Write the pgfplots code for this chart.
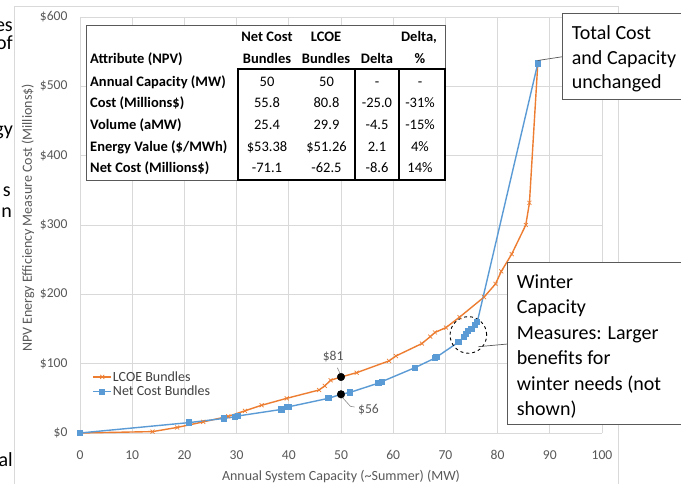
\documentclass[border=0pt]{standalone}
\usepackage{fontspec}
\setmainfont{Carlito}
\usepackage{pgfplots}
\pgfplotsset{compat=1.18}
\definecolor{lcoe}{HTML}{ED7D31}
\definecolor{netc}{HTML}{5B9BD5}
\definecolor{gridc}{HTML}{D9D9D9}
\definecolor{txtc}{HTML}{595959}
\definecolor{legc}{HTML}{404040}
\newcommand{\fs}[1]{\fontsize{#1}{#1}\selectfont}

\begin{document}
\begin{tikzpicture}[x=1pt,y=1pt]
\useasboundingbox (0,0) rectangle (681,484);
\clip (0,0) rectangle (681,484);
\fill[white] (0,0) rectangle (681,484);

% slide text running in from the left
\begin{scope}[every node/.style={font=\fs{20}, anchor=base east, inner sep=0pt}]
\node at (13,484-31.7) {es};
\node at (13,484-50) {of};
\node at (13,484-136) {gy};
\node at (11,484-197) {s};
\node at (12,484-218) {n};
\node at (13,484-467) {al};
\end{scope}

% chart area frame
\draw[gridc, line width=0.8pt] (14,-5) -- (14,478) -- (618,478) -- (618,-5);

\begin{axis}[
  at={(80pt,51pt)}, anchor=south west, scale only axis,
  width=522pt, height=416pt,
  xmin=0, xmax=100, ymin=0, ymax=600,
  xtick={0,10,...,100}, ytick={0,100,...,600},
  grid=major, major grid style={gridc, line width=0.8pt},
  axis line style={draw=none}, major tick length=0pt,
  tick label style={font=\fs{13.6}, text=txtc},
  /pgf/number format/assume math mode=true,
  yticklabel={\$\pgfmathprintnumber{\tick}},
  yticklabel style={xshift=-9pt},
  xticklabel style={yshift=-14pt},
  clip=false,
  legend style={at={(0.018,0.156)}, anchor=north west, draw=none, fill=none,
    font=\fs{14}, text=legc, row sep=1.5pt,
    nodes={inner sep=1pt}},
  legend cell align=left,
  legend image code/.code={\draw[mark repeat=2, mark phase=2, #1]
    plot coordinates {(0pt,0pt) (9pt,0pt) (18pt,0pt)};},
]
% LCOE bundles
\addplot[lcoe, line width=1.4pt, mark=x, mark size=2.8pt,
  mark options={line width=0.7pt}] coordinates {
(0,0) (13.9,2) (18.6,8) (23.6,16) (28.4,24) (31.6,32) (34.8,40)
(39.6,50) (45.8,62) (46.9,68) (48.0,76) (50.0,80.8) (53.0,87)
(59.2,104) (60.5,111) (65.5,129) (67.1,139) (68.0,145) (70.1,152)
(72.7,167) (77.4,196) (79.6,215) (80.7,233) (82.7,258) (85.4,300)
(86.1,332) (87.7,533)};
\addlegendentry{LCOE Bundles}
% Net cost bundles
\addplot[netc, line width=1.4pt, mark=square*, mark size=2.4pt] coordinates {
(0,0) (20.9,15) (27.6,21) (29.7,23.5) (30.2,24.5) (38.6,34) (39.6,37)
(40.1,38) (47.6,50) (50.0,55.8) (51.7,58.5) (57.2,72) (57.8,74)
(64.1,94) (68.0,108) (68.3,109.5) (72.5,131) (73.6,139) (74.0,143)
(74.4,147) (75.0,150) (75.6,156) (76.1,160) (87.7,533)};
\addlegendentry{Net Cost Bundles}
% 50 MW comparison points
\addplot[only marks, mark=*, mark size=3.8pt, black, forget plot]
  coordinates {(50,80.8) (50,55.8)};
\draw[txtc!70, line width=0.6pt] (axis cs:49.3,94) -- (axis cs:49.95,84);
\node[txtc, font=\fs{13.6}] at (axis cs:48.5,110) {\$81};
\draw[txtc!70, line width=0.6pt] (axis cs:50.3,51) -- (axis cs:51.8,38.5) -- (axis cs:52.6,37.5);
\node[txtc, font=\fs{13.6}, anchor=west] at (axis cs:52.6,33) {\$56};
% winter capacity cluster
\draw[black, dashed, line width=0.9pt] (axis cs:74.4,141.4) circle[radius=18.3pt];
\end{axis}

% summary table
\fill[white] (86,458.3) rectangle (445,304);
\draw[txtc, line width=0.9pt] (86,458.3) rectangle (445,304);
\draw[black, line width=2pt] (237.7,415) rectangle (445,304);
\draw[black, line width=1.2pt] (355,415) -- (355,304);
\draw[black, line width=1.2pt] (399,415) -- (399,304);
\begin{scope}[every node/.style={font=\fs{14.5}, inner sep=0pt, anchor=base}]
\node[font=\fs{14.5}\bfseries] at (267,484-41.4) {Net Cost};
\node[font=\fs{14.5}\bfseries] at (326,484-41.4) {LCOE};
\node[font=\fs{14.5}\bfseries] at (419,484-41.4) {Delta,};
\node[font=\fs{14.5}\bfseries, anchor=base west] at (90,484-63.7) {Attribute (NPV)};
\node[font=\fs{14.5}\bfseries] at (267,484-63.7) {Bundles};
\node[font=\fs{14.5}\bfseries] at (326,484-63.7) {Bundles};
\node[font=\fs{14.5}\bfseries] at (377,484-63.7) {Delta};
\node[font=\fs{14.5}\bfseries] at (420,484-63.7) {\%};
\foreach \yy/\lab/\a/\b/\c/\d in {
  86.4/{Annual Capacity (MW)}/50/50/-/-,
  108/{Cost (Millions\$)}/55.8/80.8/-25.0/-31\%,
  129.6/{Volume (aMW)}/25.4/29.9/-4.5/-15\%,
  151.2/{Energy Value (\$/MWh)}/\$53.38/\$51.26/2.1/4\%,
  172.8/{Net Cost (Millions\$)}/-71.1/-62.5/-8.6/14\%} {
  \node[font=\fs{14.5}\bfseries, anchor=base west] at (90,484-\yy) {\lab};
  \node at (267,484-\yy) {\a};
  \node at (326.5,484-\yy) {\b};
  \node at (377,484-\yy) {\c};
  \node at (420,484-\yy) {\d};
}
\end{scope}

% callouts
\draw[txtc, line width=0.7pt] (537.7,484-60.5) -- (562.7,484-56.7);
\draw[txtc, line width=1pt, fill=white] (562.7,470) rectangle (700,384.7);
\begin{scope}[every node/.style={font=\fs{20}, inner sep=0pt, anchor=base west}]
\node at (571.7,484-40) {Total Cost};
\node at (571.7,484-64.3) {and Capacity};
\node at (571.7,484-88.5) {unchanged};
\end{scope}

\draw[txtc, line width=0.7pt] (478.3,484-346.7) -- (507.7,484-344);
\draw[txtc, line width=1pt, fill=white] (507.7,484-262.3) rectangle (700,484-425);
\begin{scope}[every node/.style={font=\fs{20}, inner sep=0pt, anchor=base west}]
\node at (516.7,484-288.3) {Winter};
\node at (516.7,484-313.8) {Capacity};
\node at (516.7,484-339.3) {Measures: Larger};
\node at (516.7,484-364.8) {benefits for};
\node at (516.7,484-390.3) {winter needs (not};
\node at (516.7,484-415.8) {shown)};
\end{scope}

% axis titles
\node[txtc, font=\fs{14}] at (341,7) {Annual System Capacity (\textasciitilde Summer) (MW)};
\node[txtc, font=\fs{14}, rotate=90] at (28,266) {NPV Energy Efficiency Measure Cost (Millions\$)};
\end{tikzpicture}
\end{document}
